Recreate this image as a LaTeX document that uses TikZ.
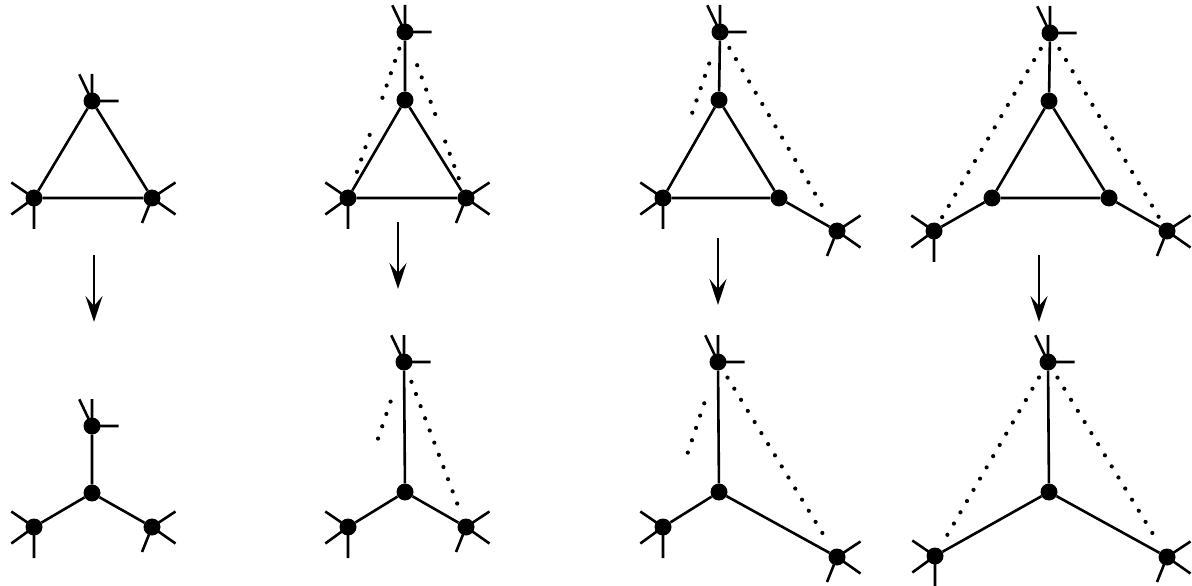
\documentclass[tikz,border=0pt]{standalone}
\usetikzlibrary{calc,arrows.meta}
\tikzset{
  vtx/.style={circle,fill=black,inner sep=0pt,minimum size=17bp},
  edge/.style={line width=2.6bp,black},
  dots/.style={line width=4.2bp,line cap=round,dash pattern=on 0bp off 13bp},
  down arrow/.style={line width=2.6bp,-{Stealth[length=26bp,width=17bp,inset=10bp]}}
}
% stubs for a top vertex, a lower-left vertex, a lower-right vertex
\newcommand\stubT[1]{\draw[edge] (#1.center) -- ++(-12.7,-26.7) coordinate (#1-a)
  (#1.center) -- ++(0,-27) coordinate (#1-b) (#1.center) -- ++(26.7,0) coordinate (#1-c);}
\newcommand\stubL[1]{\draw[edge] (#1.center) -- ++(-22.7,-15.5) coordinate (#1-a)
  (#1.center) -- ++(-22.7,16.5) coordinate (#1-b) (#1.center) -- ++(0,31) coordinate (#1-c);}
\newcommand\stubR[1]{\draw[edge] (#1.center) -- ++(23.5,-15.5) coordinate (#1-a)
  (#1.center) -- ++(23.5,16.5) coordinate (#1-b) (#1.center) -- ++(-10,25) coordinate (#1-c);}
\begin{document}
\begin{tikzpicture}[x=1bp,y=-1bp]
\useasboundingbox (0,0) rectangle (1192,586);

% ---------- panel 1 ----------
\node[vtx] (A1t) at (92,101) {};
\node[vtx] (A1l) at (34,198) {};
\node[vtx] (A1r) at (152,198) {};
\draw[edge] (A1t) -- (A1l) -- (A1r) -- (A1t);
\stubT{A1t}\stubL{A1l}\stubR{A1r}
\coordinate (R1a) at (94,255); \coordinate (R1b) at (94,322);
\draw[down arrow] (R1a) -- (R1b);
\node[vtx] (B1t) at (92,426) {};
\node[vtx] (B1c) at (92,493) {};
\node[vtx] (B1l) at (34,527) {};
\node[vtx] (B1r) at (152,527) {};
\draw[edge] (B1c) -- (B1t) (B1c) -- (B1l) (B1c) -- (B1r);
\stubT{B1t}\stubL{B1l}\stubR{B1r}

% ---------- panel 2 ----------
\node[vtx] (A2t) at (405,32) {};
\node[vtx] (A2i) at (405,100) {};
\node[vtx] (A2l) at (348,198) {};
\node[vtx] (A2r) at (466,198) {};
\draw[edge] (A2t) -- (A2i) (A2i) -- (A2l) -- (A2r) -- (A2i);
\draw[dots] ($(A2t)!0.1!(A2l)$) -- ($(A2t)!0.45!(A2l)$)
            ($(A2t)!0.62!(A2l)$) -- ($(A2t)!0.9!(A2l)$);
\draw[dots] ($(A2t)!0.2!(A2r)$) -- ($(A2t)!0.53!(A2r)$)
            ($(A2t)!0.66!(A2r)$) -- ($(A2t)!0.92!(A2r)$);
\stubT{A2t}\stubL{A2l}\stubR{A2r}
\coordinate (R2a) at (398,222); \coordinate (R2b) at (398,289);
\draw[down arrow] (R2a) -- (R2b);
\node[vtx] (B2t) at (404,362) {};
\node[vtx] (B2c) at (405,492) {};
\node[vtx] (B2l) at (348,527) {};
\node[vtx] (B2r) at (466,527) {};
\draw[edge] (B2c) -- (B2t) (B2c) -- (B2l) (B2c) -- (B2r);
\draw[dots] ($(B2t)!0.24!(B2l)$) -- ($(B2t)!0.5!(B2l)$);
\draw[dots] ($(B2t)!0.12!(B2r)$) -- ($(B2t)!0.92!(B2r)$);
\stubT{B2t}\stubL{B2l}\stubR{B2r}

% ---------- panel 3 ----------
\node[vtx] (A3t) at (720,32) {};
\node[vtx] (A3i) at (719,100) {};
\node[vtx] (A3l) at (663,198) {};
\node[vtx] (A3r) at (779,198) {};
\node[vtx] (A3f) at (837,231) {};
\draw[edge] (A3t) -- (A3i) (A3i) -- (A3l) -- (A3r) -- (A3i) (A3r) -- (A3f);
\draw[dots] ($(A3t)!0.19!(A3l)$) -- ($(A3t)!0.52!(A3l)$);
\draw[dots] ($(A3t)!0.08!(A3f)$) -- ($(A3t)!0.9!(A3f)$);
\stubT{A3t}\stubL{A3l}\stubR{A3f}
\coordinate (R3a) at (718,238); \coordinate (R3b) at (718,305);
\draw[down arrow] (R3a) -- (R3b);
\node[vtx] (B3t) at (718,362) {};
\node[vtx] (B3c) at (719,492) {};
\node[vtx] (B3l) at (663,527) {};
\node[vtx] (B3f) at (837,557) {};
\draw[edge] (B3c) -- (B3t) (B3c) -- (B3l) (B3c) -- (B3f);
\draw[dots] ($(B3t)!0.25!(B3l)$) -- ($(B3t)!0.58!(B3l)$);
\draw[dots] ($(B3t)!0.08!(B3f)$) -- ($(B3t)!0.9!(B3f)$);
\stubT{B3t}\stubL{B3l}\stubR{B3f}

% ---------- panel 4 ----------
\node[vtx] (A4t) at (1050,33) {};
\node[vtx] (A4i) at (1049,101) {};
\node[vtx] (A4l) at (992,198) {};
\node[vtx] (A4r) at (1109,198) {};
\node[vtx] (A4fl) at (934,231) {};
\node[vtx] (A4fr) at (1167,231) {};
\draw[edge] (A4t) -- (A4i) (A4i) -- (A4l) -- (A4r) -- (A4i)
            (A4l) -- (A4fl) (A4r) -- (A4fr);
\draw[dots] ($(A4t)!0.08!(A4fl)$) -- ($(A4t)!0.93!(A4fl)$);
\draw[dots] ($(A4t)!0.08!(A4fr)$) -- ($(A4t)!0.93!(A4fr)$);
\stubT{A4t}\stubL{A4fl}\stubR{A4fr}
\coordinate (R4a) at (1039,255); \coordinate (R4b) at (1039,322);
\draw[down arrow] (R4a) -- (R4b);
\node[vtx] (B4t) at (1048,362) {};
\node[vtx] (B4c) at (1049,492) {};
\node[vtx] (B4fl) at (935,556) {};
\node[vtx] (B4fr) at (1167,557) {};
\draw[edge] (B4c) -- (B4t) (B4c) -- (B4fl) (B4c) -- (B4fr);
\draw[dots] ($(B4t)!0.08!(B4fl)$) -- ($(B4t)!0.92!(B4fl)$);
\draw[dots] ($(B4t)!0.08!(B4fr)$) -- ($(B4t)!0.92!(B4fr)$);
\stubT{B4t}\stubL{B4fl}\stubR{B4fr}
\end{tikzpicture}
\end{document}
